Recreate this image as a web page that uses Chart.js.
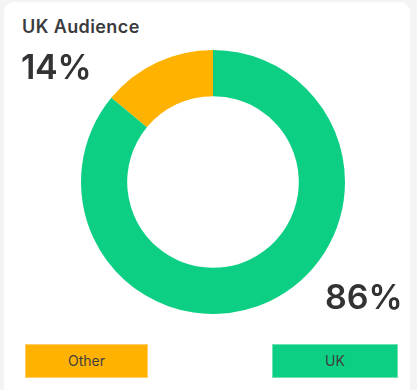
<!DOCTYPE html>
<html>
<head>
<meta charset="utf-8">
<script src="https://cdn.jsdelivr.net/npm/chart.js@4/dist/chart.umd.min.js"></script>
<style>
  html, body { margin:0; padding:0; }
  body { width:417px; height:390px; background:#f4f4f4; position:relative; overflow:hidden; font-family: Inter, "Noto Sans", sans-serif; }
  #card { position:absolute; left:4px; top:2px; width:406px; height:400px; background:#fff; border-radius:10px; }
  #title { position:absolute; left:22px; top:16px; font-size:18px; font-weight:600; color:#3b3b3e; letter-spacing:0.4px; line-height:1.21; }
  .pct { position:absolute; font-size:34px; font-weight:600; color:#333336; line-height:1; letter-spacing:0px; }
  #p1 { left:21px; top:50px; letter-spacing:-0.3px; }
  #p2 { left:325px; top:280px; }
  #wrap { position:absolute; left:81px; top:50px; width:264px; height:264px; }
  .leg { position:absolute; top:344px; height:34px; line-height:32px; text-align:center; font-size:14px; color:#3f3f3f; box-sizing:border-box; }
</style>
</head>
<body>
<div id="card"></div>
<div id="title">UK Audience</div>
<div id="wrap"><canvas id="c"></canvas></div>
<div id="p1" class="pct"></div>
<div id="p2" class="pct"></div>
<div id="legend"></div>
<script>
const labels = ['Other', 'UK'];
const values = [14, 86];
const colors = ['#ffb200', '#0ccf84'];
const borderColors = ['#ffcf66', '#6fe3b5'];
const legendLeft = [25, 272];
const legendWidth = [123, 126];

document.getElementById('p1').textContent = values[0] + '%';
document.getElementById('p2').textContent = values[1] + '%';

const leg = document.getElementById('legend');
labels.forEach((l, i) => {
  const d = document.createElement('div');
  d.className = 'leg';
  d.style.left = legendLeft[i] + 'px';
  d.style.width = legendWidth[i] + 'px';
  d.style.background = colors[i];
  d.style.border = '1px solid ' + borderColors[i];
  d.textContent = l;
  leg.appendChild(d);
});

const total = values.reduce((a, b) => a + b, 0);
new Chart(document.getElementById('c'), {
  type: 'doughnut',
  data: {
    labels: labels,
    datasets: [{
      data: values,
      backgroundColor: colors,
      borderWidth: 0,
      hoverOffset: 0
    }]
  },
  options: {
    responsive: true,
    maintainAspectRatio: false,
    animation: false,
    cutout: '65%',
    rotation: -values[0] / total * 360,
    layout: { padding: 0 },
    plugins: { legend: { display: false }, tooltip: { enabled: false } }
  }
});
</script>
</body>
</html>
